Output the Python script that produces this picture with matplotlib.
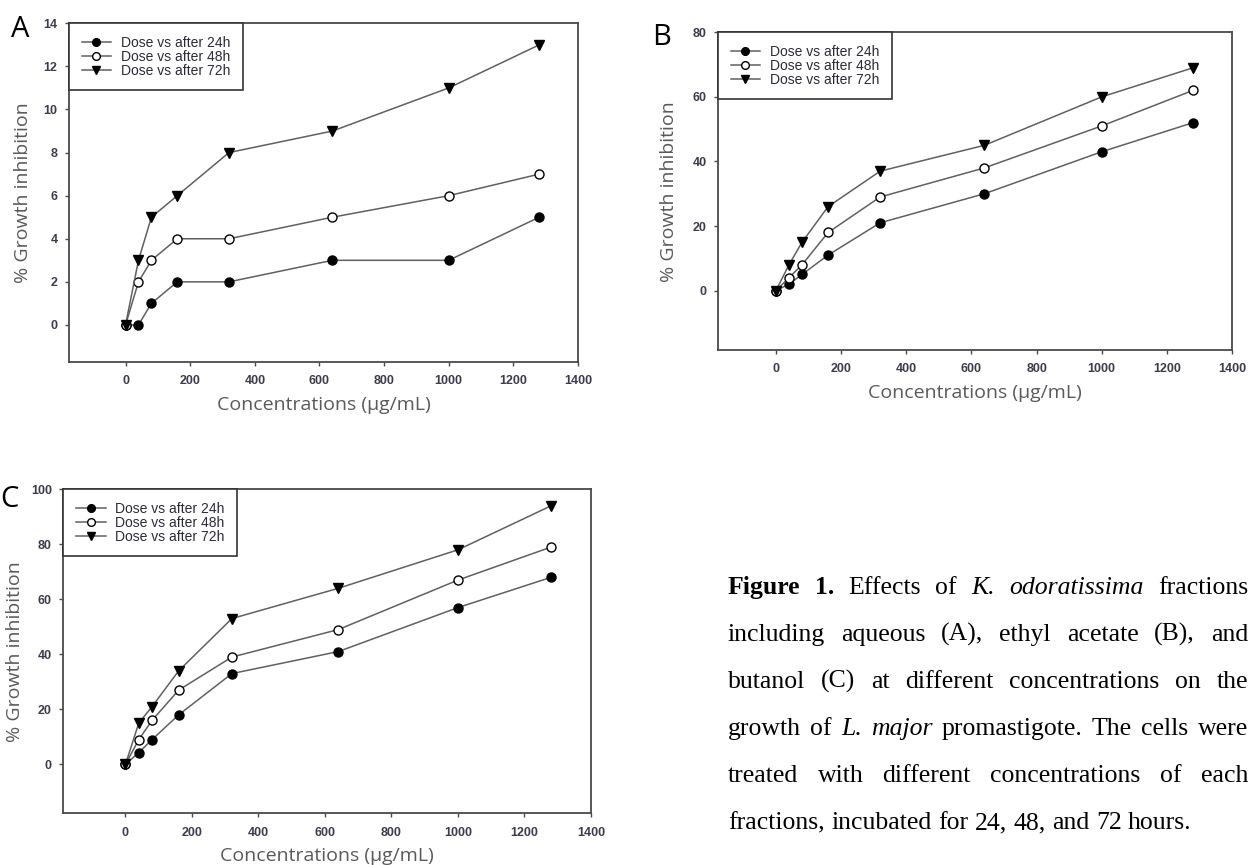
import matplotlib
matplotlib.use("Agg")
import matplotlib.pyplot as plt
from matplotlib.transforms import IdentityTransform

# ---------------- data ----------------
conc = [0, 40, 80, 160, 320, 640, 1000, 1280]

a_24 = [0, 0, 1, 2, 2, 3, 3, 5]
a_48 = [0, 2, 3, 4, 4, 5, 6, 7]
a_72 = [0, 3, 5, 6, 8, 9, 11, 13]

b_24 = [0, 2, 5, 11, 21, 30, 43, 52]
b_48 = [0, 4, 8, 18, 29, 38, 51, 62]
b_72 = [0, 8, 15, 26, 37, 45, 60, 69]

c_24 = [0, 4.3, 9, 18, 33, 41, 57, 68]
c_48 = [0, 9, 16, 27, 39, 49, 67, 79]
c_72 = [0, 15, 21, 34, 53, 64, 78, 94]

series_labels = ["Dose vs after 24h", "Dose vs after 48h", "Dose vs after 72h"]
x_ticks = [0, 200, 400, 600, 800, 1000, 1200, 1400]
a_yticks = [0, 2, 4, 6, 8, 10, 12, 14]
b_yticks = [0, 20, 40, 60, 80]
c_yticks = [0, 20, 40, 60, 80, 100]
x_label = "Concentrations (\u00b5g/mL)"
y_label = "% Growth inhibition"
panel_letters = ["A", "B", "C"]

caption_lines = [
    [("Figure", "bold", "normal"), ("1.", "bold", "normal"), ("Effects", "normal", "normal"),
     ("of", "normal", "normal"), ("K.", "normal", "italic"), ("odoratissima", "normal", "italic"),
     ("fractions", "normal", "normal")],
    [(w, "normal", "normal") for w in "including aqueous (A), ethyl acetate (B), and".split()],
    [(w, "normal", "normal") for w in "butanol (C) at different concentrations on the".split()],
    [("growth", "normal", "normal"), ("of", "normal", "normal"), ("L.", "normal", "italic"),
     ("major", "normal", "italic"), ("promastigote.", "normal", "normal"), ("The", "normal", "normal"),
     ("cells", "normal", "normal"), ("were", "normal", "normal")],
    [(w, "normal", "normal") for w in "treated with different concentrations of each".split()],
    [(w, "normal", "normal") for w in "fractions, incubated for 24, 48, and 72 hours.".split()],
]

# ---------------- layout ----------------
W, H = 1253, 865
fig = plt.figure(figsize=(W / 100, H / 100), dpi=100)
fig.patch.set_facecolor("white")


def rect(l, r, t, b):
    return [l / W, 1 - b / H, (r - l) / W, (b - t) / H]


panels = [
    dict(rect=rect(69, 578, 23.3, 362), xlim=(-175, 1400), ylim=(-1.72, 14),
         yticks=a_yticks, data=(a_24, a_48, a_72), letter_xy=(11, 37)),
    dict(rect=rect(718, 1232, 32.3, 350), xlim=(-178, 1400), ylim=(-18.4, 80),
         yticks=b_yticks, data=(b_24, b_48, b_72), letter_xy=(652, 45)),
    dict(rect=rect(63.3, 591, 489.3, 813.3), xlim=(-187, 1400), ylim=(-17.8, 100),
         yticks=c_yticks, data=(c_24, c_48, c_72), letter_xy=(0, 507)),
]

line_color = "#606060"
spine_color = "#4a4a4a"
tick_color = "#3c3c4e"
label_color = "#5a5a5a"
markers = [
    dict(marker="o", markerfacecolor="black", markeredgecolor="black"),
    dict(marker="o", markerfacecolor="white", markeredgecolor="black"),
    dict(marker="v", markerfacecolor="black", markeredgecolor="black"),
]

for i, p in enumerate(panels):
    ax = fig.add_axes(p["rect"])
    for ys, lab, mk in zip(p["data"], series_labels, markers):
        ax.plot(conc, ys, color=line_color, lw=1.1, markersize=6.5,
                markeredgewidth=1.0, label=lab, zorder=3, **mk)
    ax.set_xlim(*p["xlim"])
    ax.set_ylim(*p["ylim"])
    ax.set_xticks(x_ticks)
    ax.set_yticks(p["yticks"])
    for s in ax.spines.values():
        s.set_color(spine_color)
        s.set_linewidth(1.3)
    ax.tick_params(direction="out", length=3.2, width=1.0, color=spine_color,
                   labelsize=9, labelcolor=tick_color, top=False, right=False)
    ax.tick_params(axis="x", pad=6.5)
    ax.tick_params(axis="y", pad=5)
    for t in ax.get_xticklabels() + ax.get_yticklabels():
        t.set_fontfamily("Liberation Sans")
        t.set_fontweight("bold")
    ax.set_xlabel(x_label, fontsize=14, family="Open Sans", color=label_color)
    ax.set_ylabel(y_label, fontsize=14, family="Open Sans", color=label_color)
    bb = p["rect"]
    ax_h_px = bb[3] * H
    ax_w_px = bb[2] * W
    ax.xaxis.set_label_coords(0.5, -43 / ax_h_px)
    ax.xaxis.label.set_va("center")
    ylab_x = [23, 669, 15][i]
    ax.yaxis.set_label_coords((ylab_x - bb[0] * W) / ax_w_px, 0.5)
    ax.yaxis.label.set_va("center")

    leg = ax.legend(loc="upper left", bbox_to_anchor=(0, 1), borderaxespad=0,
                    frameon=True, fancybox=False, framealpha=1,
                    edgecolor="#333333", prop=dict(family="Liberation Sans", size=10),
                    handlelength=2.15, handletextpad=0.7, borderpad=0.9,
                    labelspacing=0.0, markerscale=0.85)
    leg.get_frame().set_linewidth(1.2)
    for t in leg.get_texts():
        t.set_color("#2a2a3a")

    lx, ly = p["letter_xy"]
    fig.text(lx, H - ly, panel_letters[i], transform=IdentityTransform(),
             fontsize=21, family="Open Sans", ha="left", va="baseline", color="black")

# ---------------- caption (justified) ----------------
cap_left, cap_right = 728, 1248
cap_fs = 18.5
baseline0, line_step = 594, 47
fig.canvas.draw()
renderer = fig.canvas.get_renderer()


def make(word, wt, st):
    return fig.text(0, 0, word, transform=IdentityTransform(), fontsize=cap_fs,
                    family="Liberation Serif", weight=wt, style=st,
                    ha="left", va="baseline", color="black")


probe1 = make("nn", "normal", "normal")
probe2 = make("n n", "normal", "normal")
space_w = (probe2.get_window_extent(renderer).width -
           probe1.get_window_extent(renderer).width)
probe1.remove()
probe2.remove()

for li, words in enumerate(caption_lines):
    objs = [make(w, wt, st) for (w, wt, st) in words]
    widths = [o.get_window_extent(renderer).width for o in objs]
    last = li == len(caption_lines) - 1
    if last:
        gap = space_w
    else:
        gap = (cap_right - cap_left - sum(widths)) / (len(objs) - 1)
    x = cap_left
    yb = H - (baseline0 + li * line_step)
    for o, wdt in zip(objs, widths):
        o.set_position((x, yb))
        x += wdt + gap

fig.savefig("out.png", dpi=100, facecolor="white")
